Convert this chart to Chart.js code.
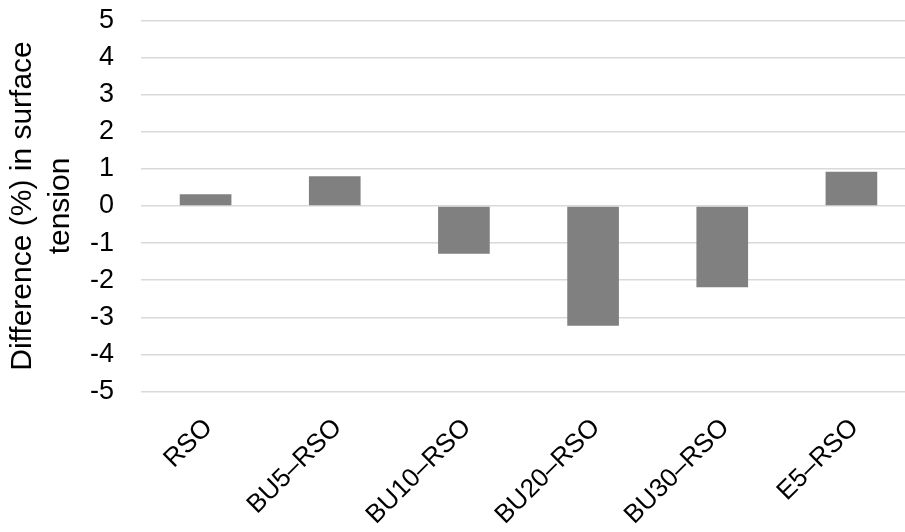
<!DOCTYPE html>
<html>
<head>
<meta charset="utf-8">
<script src="https://cdn.jsdelivr.net/npm/chart.js@4"></script>
<style>
  html, body { margin: 0; padding: 0; background: #fff; overflow: hidden; }
  /* the original plot area runs past the right edge, so the canvas is a bit wider than the window */
  #wrap { width: 917px; height: 532px; }
</style>
</head>
<body>
<div id="wrap"><canvas id="chart"></canvas></div>
<script>
const categories = ['RSO', 'BU5\u2013RSO', 'BU10\u2013RSO', 'BU20\u2013RSO', 'BU30\u2013RSO', 'E5\u2013RSO'];
const diffValues = [0.32, 0.80, -1.29, -3.23, -2.19, 0.92];
const yTitle = ['Difference (%) in surface', 'tension'];

const ctx = document.getElementById('chart').getContext('2d');

const chart = new Chart(ctx, {
    type: 'bar',
    data: {
        labels: categories,
        datasets: [{
            data: diffValues,
            backgroundColor: '#808080',
            borderWidth: 0,
            categoryPercentage: 1,
            barPercentage: 0.4
        }]
    },
    options: {
        responsive: true,
        maintainAspectRatio: false,
        animation: false,
        layout: {
            padding: { left: 0, right: 1, top: 20.5, bottom: 0 }
        },
        plugins: {
            legend: { display: false },
            tooltip: { enabled: false }
        },
        scales: {
            x: {
                grid: { display: false },
                border: { display: false },
                ticks: {
                    color: '#000',
                    font: { family: 'Liberation Sans', size: 26 },
                    autoSkip: false,
                    minRotation: 45,
                    maxRotation: 45,
                    labelOffset: 3,
                    padding: 13
                },
                afterFit: function(scale) {
                    scale.height = 140.5;
                }
            },
            y: {
                min: -5,
                max: 5,
                grid: {
                    color: '#d9d9d9',
                    lineWidth: 1.5,
                    drawTicks: true,
                    tickLength: 24,
                    tickColor: 'rgba(0,0,0,0)'
                },
                border: { display: false },
                ticks: {
                    stepSize: 1,
                    autoSkip: false,
                    color: '#000',
                    font: { family: 'Liberation Sans', size: 27 },
                    padding: 3
                },
                title: {
                    display: true,
                    text: yTitle,
                    color: '#000',
                    font: { family: 'Liberation Sans', size: 30, lineHeight: 1.27 },
                    padding: { top: 4, bottom: 0 }
                },
                afterFit: function(scale) {
                    scale.width = 141;
                }
            }
        }
    }
});
</script>
</body>
</html>
